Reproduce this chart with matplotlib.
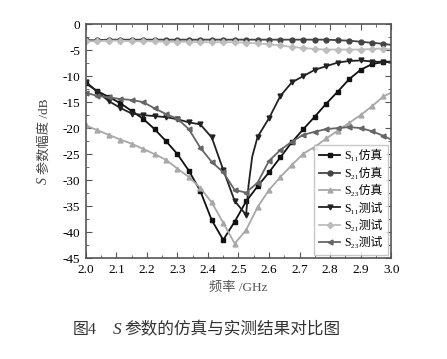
import matplotlib
matplotlib.use("Agg")
import matplotlib.pyplot as plt
from matplotlib.ticker import MultipleLocator, AutoMinorLocator

plt.rcParams["font.family"] = ["Liberation Serif", "DejaVu Serif", "Noto Sans CJK SC"]

# частоты (GHz) — общая сетка точек
freq = [2.0, 2.0375, 2.075, 2.1125, 2.15, 2.1875, 2.225, 2.2625, 2.30, 2.3375,
        2.375, 2.4125, 2.45, 2.4875, 2.525, 2.5625, 2.60, 2.6375, 2.675, 2.7125,
        2.75, 2.7875, 2.825, 2.8625, 2.90, 2.9375, 2.975, 3.0]

s11_sim = [-11.4, -12.9, -14.0, -15.2, -16.7, -18.2, -20.2, -22.5, -25.0, -28.2,
           -32.1, -37.7, -41.5, -38.0, -34.1, -31.2, -28.5, -25.6, -22.7, -20.2,
           -17.8, -15.3, -13.0, -10.6, -8.8, -7.7, -7.3, -7.2]
s21_sim = [-3.1, -3.1, -3.0, -3.0, -3.0, -3.0, -3.0, -3.0, -3.0, -3.0,
           -3.0, -3.0, -3.0, -3.0, -3.0, -3.0, -3.0, -3.0, -3.0, -3.0,
           -3.0, -3.0, -3.1, -3.2, -3.4, -3.6, -3.8, -4.0]
s23_sim = [-19.5, -20.4, -21.3, -22.2, -23.0, -24.0, -25.0, -26.1, -27.8, -29.4,
           -31.5, -34.3, -38.2, -42.2, -39.6, -35.2, -31.9, -29.4, -27.1, -24.9,
           -23.6, -22.0, -20.5, -19.0, -17.5, -15.8, -13.9, -13.2]
s21_meas = [-3.3, -3.3, -3.2, -3.2, -3.3, -3.3, -3.3, -3.4, -3.4, -3.4,
            -3.5, -3.5, -3.5, -3.5, -3.6, -3.7, -3.9, -4.1, -4.4, -4.6,
            -4.8, -4.9, -4.9, -4.9, -4.9, -4.8, -4.7, -4.9]
s23_meas = [-13.2, -13.8, -14.1, -14.4, -14.6, -15.0, -16.2, -17.3, -18.2, -20.2,
            -23.8, -26.5, -28.5, -31.9, -32.4, -30.5, -26.3, -24.2, -22.6, -21.3,
            -20.7, -20.2, -20.0, -19.8, -20.0, -20.6, -21.5, -22.2]

# S11 测试: крутой подъём после минимума, добавлены точки без маркеров
freq_s11m = [2.0, 2.0375, 2.075, 2.1125, 2.15, 2.1875, 2.225, 2.2625, 2.30, 2.3375,
             2.375, 2.4125, 2.45, 2.4875, 2.525, 2.533, 2.545, 2.5625, 2.60, 2.6375,
             2.675, 2.7125, 2.75, 2.7875, 2.825, 2.8625, 2.90, 2.9375, 2.975, 3.0]
s11_meas = [-11.1, -13.0, -14.8, -16.1, -17.2, -17.5, -17.7, -17.9, -18.3, -18.9,
            -19.3, -21.8, -28.0, -34.0, -36.7, -31.0, -25.5, -21.7, -18.1, -13.8,
            -11.2, -10.0, -8.8, -8.1, -7.4, -7.1, -7.0, -7.2, -7.3, -7.3]
s11m_marks = [0, 1, 2, 3, 4, 5, 6, 7, 8, 9, 10, 11, 12, 13, 14, 17, 18, 19, 20,
              21, 22, 23, 24, 25, 26, 27, 28]

labels = ["S₁₁仿真", "S₂₁仿真", "S₂₃仿真",
          "S₁₁测试", "S₂₁测试", "S₂₃测试"]

fig = plt.figure(figsize=(4.47, 3.59), dpi=100)
ax = fig.add_axes([0.192, 0.281, 0.683, 0.652])

grid_marks = list(range(len(freq) - 1))
ax.plot(freq, s11_sim, color="#111111", marker="s", ms=3.5, lw=1.3,
        markevery=grid_marks, label=labels[0])
ax.plot(freq, s21_sim, color="#444444", marker="o", ms=3.5, lw=1.3,
        markevery=grid_marks, label=labels[1])
ax.plot(freq, s23_sim, color="#a8a8a8", marker="^", ms=3.5, lw=1.3,
        markevery=grid_marks, label=labels[2])
ax.plot(freq_s11m, s11_meas, color="#222222", marker="v", ms=3.5, lw=1.3,
        markevery=s11m_marks, label=labels[3])
ax.plot(freq, s21_meas, color="#bdbdbd", marker="D", ms=3.2, lw=1.3,
        markevery=grid_marks, label=labels[4])
ax.plot(freq, s23_meas, color="#666666", marker="<", ms=3.5, lw=1.3,
        markevery=grid_marks, label=labels[5])

ax.set_xlim(2.0, 3.0)
ax.set_ylim(-45, 0)
ax.xaxis.set_major_locator(MultipleLocator(0.1))
ax.xaxis.set_minor_locator(AutoMinorLocator(2))
ax.yaxis.set_major_locator(MultipleLocator(5))
ax.yaxis.set_minor_locator(AutoMinorLocator(2))
ax.xaxis.set_major_formatter(plt.FuncFormatter(lambda v, p: f"{v:.1f}"))
ax.yaxis.set_major_formatter(plt.FuncFormatter(lambda v, p: f"{v:.0f}"))
ax.tick_params(which="both", direction="in", top=True, right=True,
               labelsize=9.5, color="#555555", pad=4)
ax.tick_params(which="major", length=4)
ax.tick_params(which="minor", length=2)
for sp in ax.spines.values():
    sp.set_color("#555555")
    sp.set_linewidth(1.2)

ax.set_xlabel("频率 /GHz", fontsize=9.5, color="#555555", labelpad=4)

leg = ax.legend(loc="lower right", fontsize=8.5, frameon=True, fancybox=False,
                edgecolor="#bbbbbb", handlelength=1.8, handletextpad=0.3,
                labelspacing=0.45, borderpad=0.45, borderaxespad=0.3)
leg.get_frame().set_linewidth(1.0)

# подпись оси Y: курсивная S + остальной текст
ylab = fig.text(0.098, 0.62, "参数幅度 /dB", rotation=90, ha="center", va="center",
                fontsize=9.5, color="#444444")
# подпись рисунка
cap1 = fig.text(0.162, 0.08, "图4", ha="left", va="center", fontsize=11.5, color="#333333")

fig.canvas.draw()
inv = fig.transFigure.inverted()
bb = ylab.get_window_extent()
x0, y0 = inv.transform((bb.x0 + bb.width / 2, bb.y0 - 3))
fig.text(x0, y0, "S", rotation=90, ha="center", va="top", fontsize=10,
         style="italic", color="#444444")

bb = cap1.get_window_extent()
x1, _ = inv.transform((bb.x1 + 16, 0))
s_txt = fig.text(x1, 0.08, "S", ha="left", va="center", fontsize=12.5,
                 style="italic", color="#333333")
fig.canvas.draw()
bb = s_txt.get_window_extent()
x2, _ = inv.transform((bb.x1 + 3, 0))
# подпись растянута по ширине как в оригинале
cap_rest = fig.text(x2, 0.08, "参数的仿真与实测结果对比图", ha="left", va="center",
                    fontsize=12, color="#333333")

fig.savefig("out.png", dpi=100)
